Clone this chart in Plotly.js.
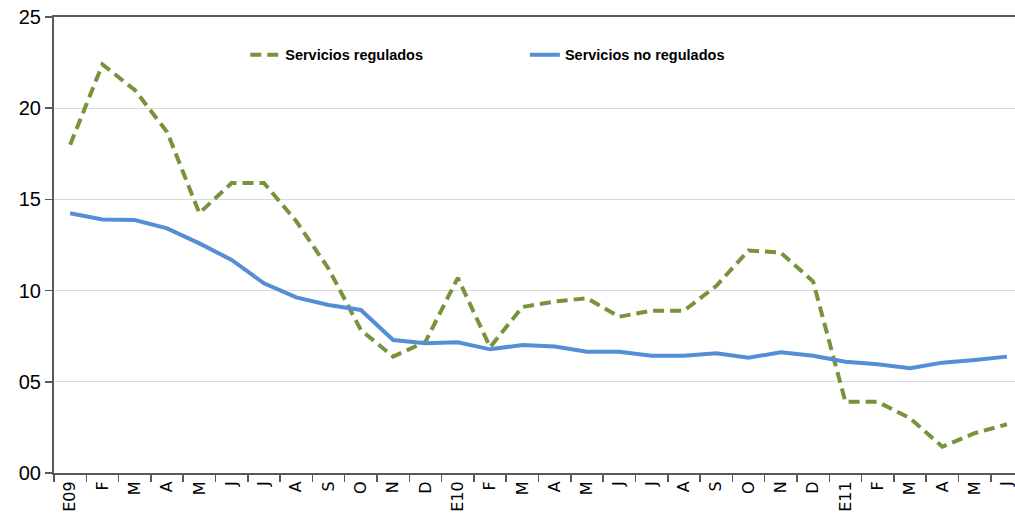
<!DOCTYPE html>
<html>
<head>
<meta charset="utf-8">
<script src="https://cdn.plot.ly/plotly-3.0.1.min.js"></script>
<style>html,body{margin:0;padding:0;background:#fff;}#chart{width:1015px;height:522px;}</style>
</head>
<body>
<div id="chart"></div>
<script>
var months = ["E09","F","M","A","M","J","J","A","S","O","N","D",
              "E10","F","M","A","M","J","J","A","S","O","N","D",
              "E11","F","M","A","M","J"];
var regulados = [18.0,22.4,21.0,18.7,14.25,15.9,15.9,13.8,11.2,7.84,6.38,7.2,
                 10.7,6.9,9.1,9.4,9.58,8.57,8.9,8.9,10.25,12.2,12.08,10.5,
                 3.9,3.9,3.0,1.44,2.18,2.67];
var noRegulados = [14.24,13.9,13.87,13.41,12.59,11.68,10.4,9.63,9.21,8.94,7.29,7.11,
                   7.17,6.78,7.02,6.93,6.65,6.65,6.43,6.43,6.56,6.32,6.62,6.43,
                   6.1,5.96,5.74,6.05,6.2,6.38];
var yTickVals = [0,5,10,15,20,25];
var yTickText = ["00","05","10","15","20","25"];

var idx = months.map(function(_, i){ return i; });

var traces = [
  {x: idx, y: regulados, type: "scatter", mode: "lines", name: "Servicios regulados",
   line: {color: "#77933C", width: 4, dash: "11px,6px"}, legend: "legend"},
  {x: idx, y: noRegulados, type: "scatter", mode: "lines", name: "Servicios no regulados",
   line: {color: "#558ED5", width: 4}, legend: "legend2"}
];

var legFont = {family: "Liberation Sans, Arial, sans-serif", size: 14.5, weight: "bold", color: "#000"};

var layout = {
  width: 1015, height: 522,
  margin: {l: 54, r: 0, t: 17, b: 49},
  paper_bgcolor: "#fff", plot_bgcolor: "#fff",
  font: {family: "Liberation Sans, Arial, sans-serif", color: "#000"},
  xaxis: {
    range: [-0.5, 29.25], tickvals: idx, ticktext: months, tickangle: -90,
    ticks: "", showgrid: false, zeroline: false, ticklabeloverflow: "allow",
    showline: true, linecolor: "#595959", linewidth: 2, mirror: true,
    tickfont: {family: "DejaVu Sans, sans-serif", size: 16, color: "#000"},
    minor: {tick0: -0.5, dtick: 1, ticks: "outside", ticklen: 7, tickcolor: "#595959", tickwidth: 1.5, showgrid: false}
  },
  yaxis: {
    range: [0, 25], tickvals: yTickVals, ticktext: yTickText,
    ticks: "outside", ticklen: 7, tickcolor: "#595959", tickwidth: 1.5,
    showgrid: true, gridcolor: "#D9D9D9", gridwidth: 1, zeroline: false,
    showline: true, linecolor: "#595959", linewidth: 2,
    tickfont: {size: 20, color: "#000"}
  },
  showlegend: true,
  legend: {x: 0.199, y: 0.917, xanchor: "left", yanchor: "middle", orientation: "h",
           bgcolor: "rgba(0,0,0,0)", font: legFont},
  legend2: {x: 0.490, y: 0.917, xanchor: "left", yanchor: "middle", orientation: "h",
           bgcolor: "rgba(0,0,0,0)", font: legFont}
};

Plotly.newPlot("chart", traces, layout, {displayModeBar: false, staticPlot: true});
</script>
</body>
</html>
